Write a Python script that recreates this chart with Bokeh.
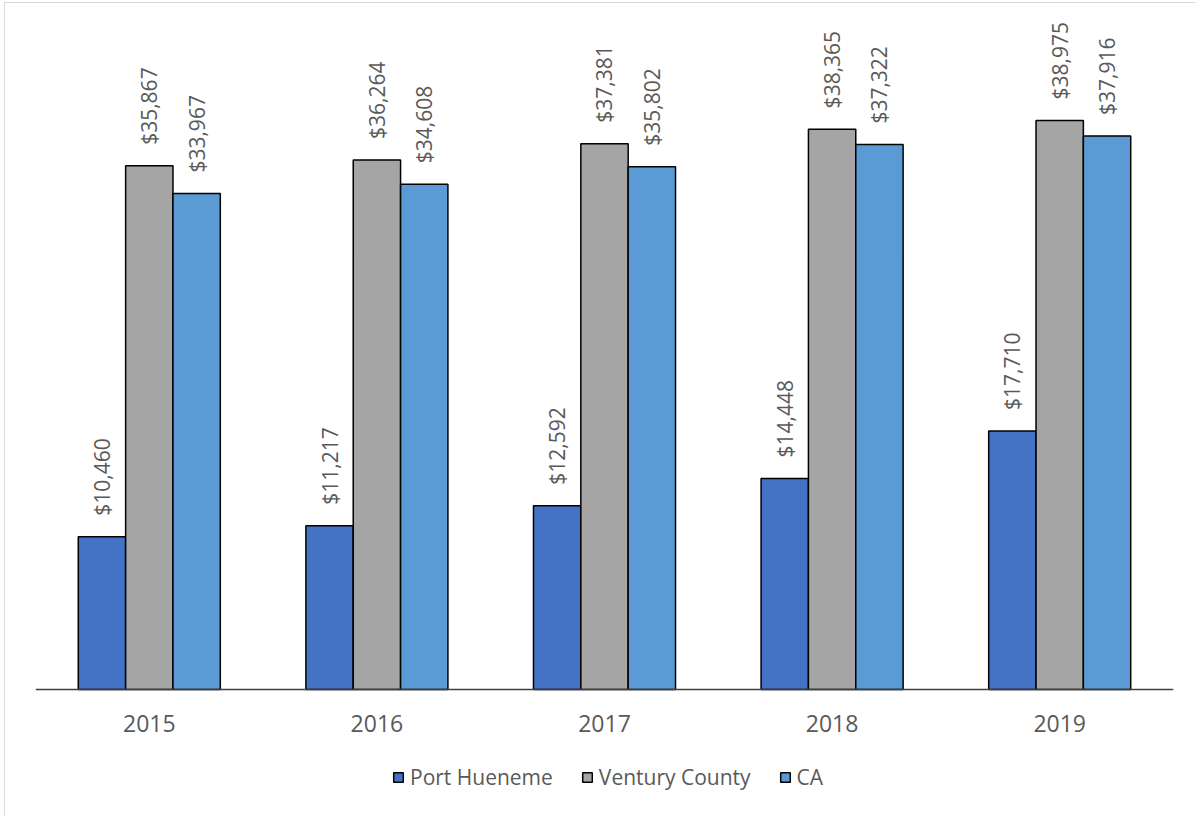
from bokeh.plotting import figure
from bokeh.models import ColumnDataSource, Range1d, FactorRange, Legend, LegendItem, LabelSet
from bokeh.core.properties import value
from bokeh.transform import dodge
from bokeh.layouts import column
from bokeh.embed import file_html
from bokeh.resources import INLINE
import math

years = ["2015", "2016", "2017", "2018", "2019"]
port_hueneme = [10460, 11217, 12592, 14448, 17710]
ventury_county = [35867, 36264, 37381, 38365, 38975]
ca = [33967, 34608, 35802, 37322, 37916]
series_names = ["Port Hueneme", "Ventury County", "CA"]
colors = ["#4472C4", "#A5A5A5", "#5B9BD5"]

def fmt(v):
    return "${:,}".format(v)

src = ColumnDataSource(dict(
    years=years,
    ph=port_hueneme, vc=ventury_county, ca=ca,
    ph_l=[fmt(v) for v in port_hueneme],
    vc_l=[fmt(v) for v in ventury_county],
    ca_l=[fmt(v) for v in ca],
))

FONT = "Open Sans"
TXT = "#595959"

W, H = 1191, 813
p = figure(width=W, height=H, x_range=FactorRange(*years, range_padding=0),
           y_range=Range1d(-8699, 46507), output_backend="svg", toolbar_location=None,
           min_border_left=30, min_border_right=23, min_border_top=7, min_border_bottom=0)
p.outline_line_color = None
p.grid.visible = False
p.yaxis.visible = False
p.background_fill_color = "white"
p.border_fill_color = "white"

w = 0.208
renderers = []
for col, lab, off, color in [("ph", "ph_l", -w, colors[0]), ("vc", "vc_l", 0, colors[1]), ("ca", "ca_l", w, colors[2])]:
    r = p.vbar(x=dodge("years", off, range=p.x_range), top=col, bottom=0, width=w, source=src,
               fill_color=color, line_color="black", line_width=1.5)
    renderers.append(r)
    ls = LabelSet(x=dodge("years", off, range=p.x_range), y=col, text=lab, source=src,
                  angle=math.pi / 2, text_align="left", text_baseline="middle",
                  y_offset=21, text_font=value(FONT), text_font_size="21px", text_color=TXT)
    p.add_layout(ls)

xa = p.xaxis[0]
xa.fixed_location = 0
xa.axis_line_color = "#404040"
xa.axis_line_width = 1.5
xa.major_tick_line_color = None
xa.minor_tick_line_color = None
xa.major_label_text_font = FONT
xa.major_label_text_font_size = "23px"
xa.major_label_text_color = TXT
xa.major_label_standoff = 20

legend = Legend(items=[LegendItem(label=n, renderers=[r]) for n, r in zip(series_names, renderers)],
                orientation="horizontal", location=(357, 25),
                glyph_width=12, glyph_height=12, label_standoff=6, spacing=28,
                padding=0, margin=0, border_line_color=None, background_fill_alpha=0,
                label_text_font=FONT, label_text_font_size="21px", label_text_color=TXT)
p.add_layout(legend, "center")

layout = column(p, margin=(2, 0, 0, 4),
                styles={"border-left": "1px solid #d9d9d9", "border-top": "1px solid #d9d9d9"})

open("out.html", "w").write(file_html(layout, INLINE))
